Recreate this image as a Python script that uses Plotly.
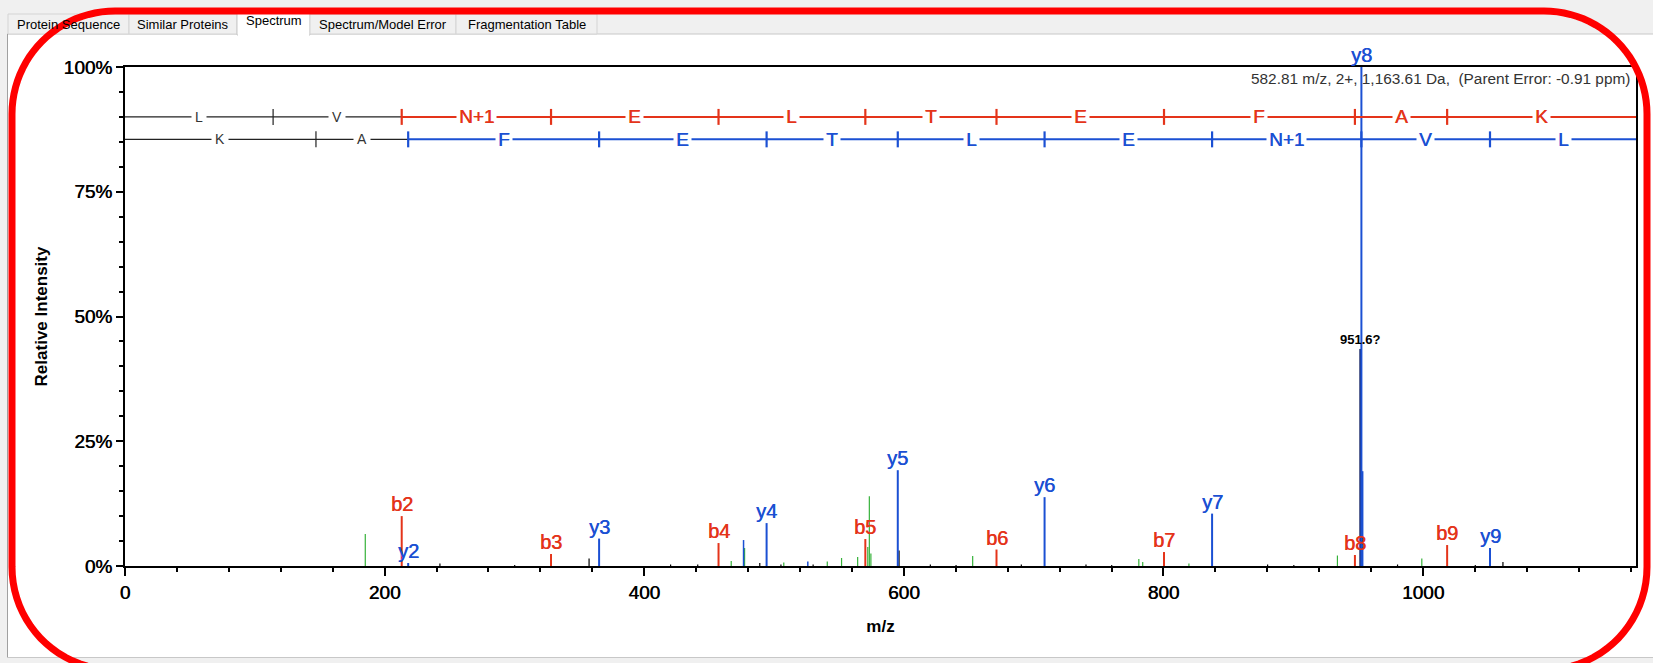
import math
import plotly.graph_objects as go

# ---------------- data ----------------
mz_max = 1164.0
parent_text = "582.81 m/z, 2+, 1,163.61 Da,  (Parent Error: -0.91 ppm)"

b_ladder_mz = [114.09, 213.16, 328.19, 457.23, 570.31, 671.36, 800.40, 947.47, 1018.51]
b_residues = ["L", "V", "N+1", "E", "L", "T", "E", "F", "A", "K"]
y_ladder_mz = [147.11, 218.15, 365.22, 494.26, 595.31, 708.39, 837.44, 952.46, 1051.53]
y_residues = ["K", "A", "F", "E", "T", "L", "E", "N+1", "V", "L"]
b_row = 90.0
y_row = 85.5

b_labels = ["b2", "b3", "b4", "b5", "b6", "b7", "b8", "b9"]
b_mz = [213.16, 328.19, 457.23, 570.31, 671.36, 800.40, 947.47, 1018.51]
b_int = [10.0, 2.4, 4.6, 5.4, 3.3, 2.8, 2.2, 4.2]

y_labels = ["y2", "y3", "y4", "y5", "y6", "y7", "y8", "y9"]
y_mz = [218.15, 365.22, 494.26, 595.31, 708.39, 837.44, 952.46, 1051.53]
y_int = [0.6, 5.5, 8.6, 19.2, 13.8, 10.5, 100.0, 3.6]

blue_extra_mz = [476.5, 526.0, 953.45]
blue_extra_int = [5.2, 0.9, 19.0]

green_mz = [185.1, 467.0, 477.3, 507.5, 541.0, 552.0, 564.4, 572.2, 573.4, 574.6,
            653.0, 781.0, 784.0, 819.6, 934.0, 999.0]
green_int = [6.4, 1.0, 3.6, 0.7, 0.9, 1.6, 1.8, 3.8, 14.0, 2.5,
             2.0, 1.4, 0.8, 0.5, 2.1, 1.5]

black_mz = [242.6, 300.2, 357.5, 420.3, 441.2, 489.0, 505.3, 530.1, 596.3, 620.4,
            640.2, 690.5, 740.3, 760.1, 880.2, 900.4, 980.3, 1040.2, 1061.5]
black_int = [0.5, 0.2, 1.5, 0.3, 0.3, 0.6, 0.3, 0.3, 3.1, 0.3,
             0.2, 0.3, 0.3, 0.2, 0.3, 0.2, 0.3, 0.2, 0.8]

unknown_mz = [951.8]
unknown_int = [43.5]
unknown_labels = ["951.6?"]

tab_names = ["Protein Sequence", "Similar Proteins", "Spectrum", "Spectrum/Model Error", "Fragmentation Table"]
x_ticks = [0, 200, 400, 600, 800, 1000]
y_ticks = [0, 25, 50, 75, 100]
y_tick_text = ["0%", "25%", "50%", "75%", "100%"]

# ---------------- styling / layout ----------------
RED = "#e4341a"
BLUE = "#1b50d3"
GREEN = "#36b23a"
FONT = "Liberation Sans, Arial, sans-serif"

FW, FH = 1653, 663
L, R, T, B = 125, 1636, 67, 566
W, H = R - L, B - T


def px(x):
    return (x - L) / W


def py(y):
    return (B - y) / H


def heavy(color, size, family=FONT):
    return dict(family=family, size=size, color=color, shadow=f"0.5px 0 0 {color}")


def sticks(mz, inten):
    xs, ys = [], []
    for m, h in zip(mz, inten):
        xs += [m, m, None]
        ys += [0, h, None]
    return xs, ys


def tick_segments(xpos, row, half=1.6):
    xs, ys = [], []
    for x in xpos:
        xs += [x, x, None]
        ys += [row - half, row + half, None]
    return xs, ys


fig = go.Figure()

# peaks
for mz, inten, col, wd in [
    (green_mz, green_int, GREEN, 1.2),
    (black_mz, black_int, "black", 1.2),
    (unknown_mz, unknown_int, "#1a2a6a", 2.5),
    (blue_extra_mz, blue_extra_int, BLUE, 1.5),
    (b_mz, b_int, RED, 2),
    (y_mz, y_int, BLUE, 2),
]:
    xs, ys = sticks(mz, inten)
    fig.add_trace(go.Scatter(x=xs, y=ys, mode="lines", line=dict(color=col, width=wd),
                             hoverinfo="skip", showlegend=False, cliponaxis=False))

# ladders
annotations = []
for ladder, residues, row, col in [
    (b_ladder_mz, b_residues, b_row, RED),
    (y_ladder_mz, y_residues, y_row, BLUE),
]:
    start = ladder[1]
    fig.add_trace(go.Scatter(x=[0, start], y=[row, row], mode="lines",
                             line=dict(color="#222222", width=1.2), showlegend=False, hoverinfo="skip"))
    xs, ys = tick_segments([ladder[0]], row)
    fig.add_trace(go.Scatter(x=xs, y=ys, mode="lines", line=dict(color="#222222", width=1.2),
                             showlegend=False, hoverinfo="skip"))
    fig.add_trace(go.Scatter(x=[start, mz_max], y=[row, row], mode="lines",
                             line=dict(color=col, width=2), showlegend=False, hoverinfo="skip"))
    xs, ys = tick_segments(ladder[1:], row)
    fig.add_trace(go.Scatter(x=xs, y=ys, mode="lines", line=dict(color=col, width=2.2),
                             showlegend=False, hoverinfo="skip"))
    bounds = [0] + ladder + [mz_max]
    for i, res in enumerate(residues):
        cx = (bounds[i] + bounds[i + 1]) / 2
        if i < 2:
            annotations.append(dict(x=cx, y=row, text=res, showarrow=False, bgcolor="white",
                                    borderpad=3, font=dict(family=FONT, size=14, color="#333333")))
        else:
            annotations.append(dict(x=cx, y=row, text=res, showarrow=False, bgcolor="white",
                                    borderpad=2, font=heavy(col, 19)))

# peak labels
for labels, mz, inten, col in [(b_labels, b_mz, b_int, RED), (y_labels, y_mz, y_int, BLUE)]:
    for lab, m, h in zip(labels, mz, inten):
        annotations.append(dict(x=m, y=h, text=lab, showarrow=False, yanchor="bottom",
                                yshift=-1, font=heavy(col, 20)))
for lab, m, h in zip(unknown_labels, unknown_mz, unknown_int):
    annotations.append(dict(x=m, y=h, text="<b>" + lab + "</b>", showarrow=False, yanchor="bottom",
                            yshift=0, font=dict(family=FONT, size=13, color="black")))

# parent info
annotations.append(dict(xref="paper", yref="paper", x=1, y=py(78), xanchor="right", xshift=-4,
                        yanchor="middle", text=parent_text, showarrow=False,
                        font=dict(family=FONT, size=15.4, color="#333333")))

# ---------------- window chrome ----------------
shapes = []


def rect(x0, y0, x1, y1, fill, line=None, lw=1, layer="below"):
    shapes.append(dict(type="rect", xref="paper", yref="paper", x0=px(x0), x1=px(x1),
                       y0=py(y1), y1=py(y0), fillcolor=fill,
                       line=dict(color=line if line else fill, width=lw if line else 0), layer=layer))


def hline(x0, x1, y, color, lw=1, layer="below"):
    shapes.append(dict(type="line", xref="paper", yref="paper", x0=px(x0), x1=px(x1),
                       y0=py(y), y1=py(y), line=dict(color=color, width=lw), layer=layer))


def vline(x, y0, y1, color, lw=1, layer="below"):
    shapes.append(dict(type="line", xref="paper", yref="paper", x0=px(x), x1=px(x),
                       y0=py(y0), y1=py(y1), line=dict(color=color, width=lw), layer=layer))


rect(0, 0, FW, 34, "#f0f0f0")
rect(0, 0, 7, FH, "#f0f0f0")
rect(0, 657, FW, FH, "#f0f0f0")
hline(7, FW, 34, "#c8c8c8")
vline(7.5, 34, 657, "#a0a0a0")
hline(7, FW, 657.5, "#c8c8c8")

tab_x = [(8, 129), (129, 237), (237, 310), (310, 456), (456, 597)]
for name, (x0, x1) in zip(tab_names, tab_x):
    sel = name == "Spectrum"
    if sel:
        rect(x0, 11, x1, 35, "white", "#c8c8c8")
        rect(x0 + 1, 33, x1 - 1, 36, "white")
        ty = 21
    else:
        rect(x0, 14, x1, 34, "#f0f0f0", "#d4d4d4")
        ty = 24
    annotations.append(dict(xref="paper", yref="paper", x=px((x0 + x1) / 2), y=py(ty),
                            text=name, showarrow=False, xanchor="center", yanchor="middle",
                            font=dict(family=FONT, size=13, color="black")))

# red rounded outline: open path whose bottom corners run off the canvas
rx0, ry0, rx1, ry1, rr = 12, 11, 1647, 670, 103


def arc(cx, cy, r, a0, a1, n=24):
    pts = []
    for i in range(n + 1):
        a = math.radians(a0 + (a1 - a0) * i / n)
        pts.append((cx + r * math.cos(a), cy + r * math.sin(a)))
    return pts


pts = []
# bottom-left corner (screen coords, y down): from angle 75 (below canvas) to 180
pts += arc(rx0 + rr, ry1 - rr, rr, 75, 180)
pts += arc(rx0 + rr, ry0 + rr, rr, 180, 270)
pts += arc(rx1 - rr, ry0 + rr, rr, 270, 360)
pts += arc(rx1 - rr, ry1 - rr, rr, 0, 105)
path = "M" + " L".join(f"{px(x):.6f},{py(y):.6f}" for x, y in pts)
shapes.append(dict(type="path", xref="paper", yref="paper", path=path,
                   line=dict(color="#ff0000", width=7), layer="above"))

fig.update_layout(
    width=FW, height=FH,
    margin=dict(l=L, r=FW - R, t=T, b=FH - B, pad=0),
    paper_bgcolor="white", plot_bgcolor="white",
    font=dict(family=FONT, color="black"),
    showlegend=False,
    shapes=shapes,
    annotations=annotations,
    xaxis=dict(range=[0, mz_max], tickvals=x_ticks, showgrid=False, zeroline=False,
               showline=True, linecolor="black", linewidth=2, mirror=True,
               ticks="outside", ticklen=8, tickwidth=2, tickcolor="black",
               minor=dict(dtick=40, ticks="outside", ticklen=4, tickwidth=1.5, tickcolor="black"),
               tickfont=heavy("black", 19),
               title=dict(text="<b>m/z</b>", font=dict(family=FONT, size=17, color="black"), standoff=18)),
    yaxis=dict(range=[0, 100], tickvals=y_ticks, ticktext=y_tick_text, showgrid=False, zeroline=False,
               showline=True, linecolor="black", linewidth=2, mirror=True,
               ticks="outside", ticklen=7, tickwidth=2, tickcolor="black",
               minor=dict(dtick=5, ticks="outside", ticklen=4, tickwidth=1.5, tickcolor="black"),
               tickfont=heavy("black", 19),
               title=dict(text="<b>Relative Intensity</b>", font=dict(family=FONT, size=17, color="black"),
                          standoff=12)),
)

fig.write_html("out.html", config={"displayModeBar": False},
               post_script="document.body.style.margin='0';document.body.style.overflow='hidden';")
